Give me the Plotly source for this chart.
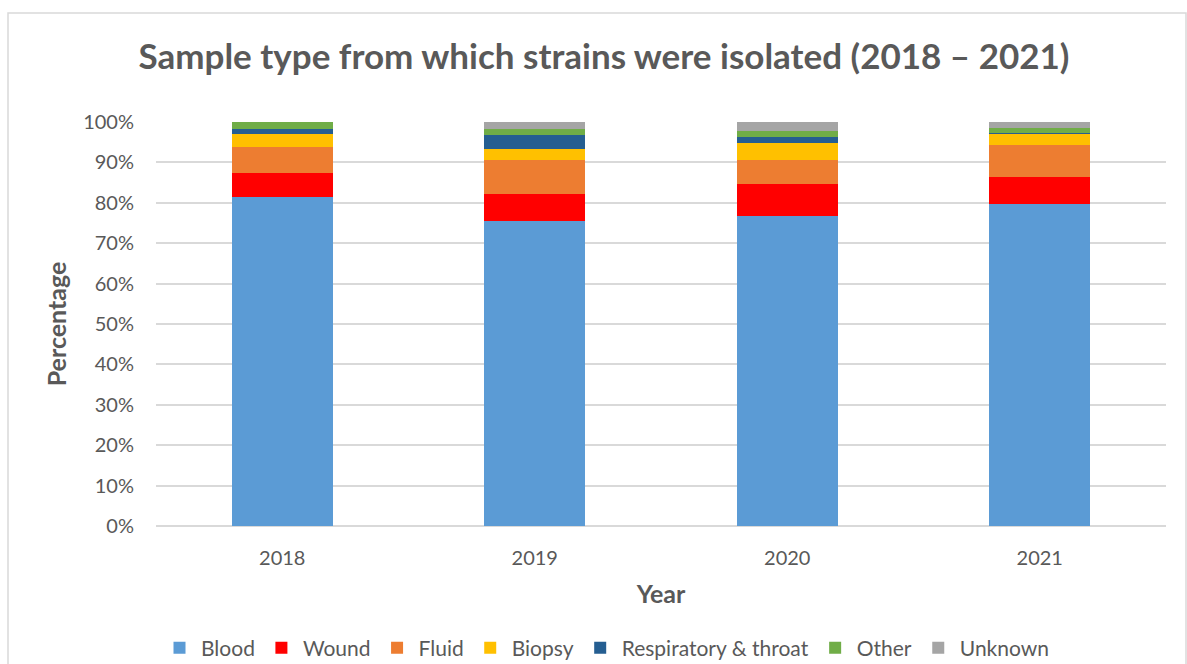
import plotly.graph_objects as go

years = ["2018", "2019", "2020", "2021"]
blood = [81.5, 75.5, 76.8, 79.6]
wound = [5.8, 6.7, 7.9, 6.7]
fluid = [6.4, 8.3, 6.0, 7.9]
biopsy = [3.4, 2.8, 4.2, 2.9]
respiratory = [1.2, 3.4, 1.3, 0.3]
other = [1.7, 1.6, 1.5, 1.1]
unknown = [0.0, 1.7, 2.3, 1.5]

series = [
    ("Blood", blood, "#5B9BD5"),
    ("Wound", wound, "#FF0000"),
    ("Fluid", fluid, "#ED7D31"),
    ("Biopsy", biopsy, "#FFC000"),
    ("Respiratory & throat", respiratory, "#255E91"),
    ("Other", other, "#70AD47"),
    ("Unknown", unknown, "#A5A5A5"),
]

FONT = "Lato"
GREY = "#595959"

fig = go.Figure()
for name, vals, col in series:
    fig.add_trace(go.Bar(x=years, y=vals, name=name, marker=dict(color=col, line=dict(width=0))))

W, H = 1187, 664
L, R, T, B = 156, 21, 122, 138
pw, ph = W - L - R, H - T - B

def px(x):
    return (x - L) / pw

def py(y):
    return (H - B - y) / ph

fig.update_layout(
    width=W, height=H,
    barmode="stack", bargap=0.6,
    margin=dict(l=L, r=R, t=T, b=B, autoexpand=False),
    plot_bgcolor="white", paper_bgcolor="white",
    font=dict(family=FONT, color=GREY, size=20),
    title=dict(text="<b>Sample type from which strains were isolated (2018 – 2021)</b>",
               x=604 / W, xanchor="center", y=1 - 57 / H, yanchor="middle",
               font=dict(size=35, color=GREY, family=FONT)),
    xaxis=dict(title=dict(text="<b>Year</b>", font=dict(size=25, color=GREY), standoff=17),
               tickfont=dict(size=20, color=GREY), showgrid=False, showline=False, ticks="",
               ticklabelstandoff=18, automargin=False),
    yaxis=dict(title=dict(text="<b>Percentage</b>", font=dict(size=25, color=GREY), standoff=9),
               range=[0, 100], tickvals=list(range(0, 101, 10)),
               ticktext=[f"{v}%" for v in range(0, 101, 10)],
               tickfont=dict(size=20, color=GREY),
               showgrid=True, gridcolor="#D9D9D9", gridwidth=1.5,
               zeroline=True, zerolinecolor="#D9D9D9", zerolinewidth=1.5,
               ticks="", ticklabelstandoff=21, automargin=False),
    legend=dict(orientation="h", x=px(606), xanchor="center", y=py(648), yanchor="middle",
                font=dict(size=21, color=GREY), traceorder="normal", itemwidth=33),
    shapes=[dict(type="rect", xref="paper", yref="paper",
                 x0=px(8), x1=px(1186), y0=py(680), y1=py(13),
                 line=dict(color="#D9D9D9", width=1.5), layer="below")],
)

fig.write_html("out.html")
